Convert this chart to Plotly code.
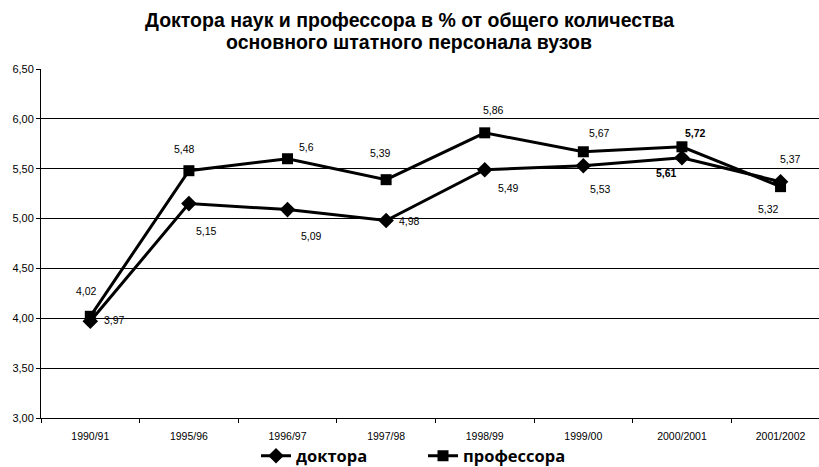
import plotly.graph_objects as go

categories = ["1990/91", "1995/96", "1996/97", "1997/98", "1998/99", "1999/00", "2000/2001", "2001/2002"]
doktora = [3.97, 5.15, 5.09, 4.98, 5.49, 5.53, 5.61, 5.37]
professora = [4.02, 5.48, 5.6, 5.39, 5.86, 5.67, 5.72, 5.32]
doktora_labels = ["3,97", "5,15", "5,09", "4,98", "5,49", "5,53", "5,61", "5,37"]
professora_labels = ["4,02", "5,48", "5,6", "5,39", "5,86", "5,67", "5,72", "5,32"]
y_ticks = [3.0, 3.5, 4.0, 4.5, 5.0, 5.5, 6.0, 6.5]
y_tick_text = ["3,00", "3,50", "4,00", "4,50", "5,00", "5,50", "6,00", "6,50"]
title_lines = ["Доктора наук и профессора в % от общего количества",
               "основного штатного персонала вузов"]

# label offsets (px) relative to the point
dok_off = [(24, 1), (18, -27), (24, -26), (23, 0), (24, -18), (17, -23), (-15, -15), (10, 23)]
prof_off = [(-4, 25), (-4, 22), (19, 12), (-6, 27), (9, 23), (16, 19), (14, 14), (-12, -22)]
dok_bold = [False] * 6 + [True, False]
prof_bold = [False] * 6 + [True, False]

PLOT_TOP = 69
PLOT_H = 418 - 69

fig = go.Figure()
fig.add_trace(go.Scatter(
    x=categories, y=doktora, name="доктора", mode="lines+markers",
    line=dict(color="black", width=3),
    marker=dict(symbol="diamond", size=12, color="black"),
))
fig.add_trace(go.Scatter(
    x=categories, y=professora, name="профессора", mode="lines+markers",
    line=dict(color="black", width=3),
    marker=dict(symbol="square", size=11, color="black"),
))

annotations = []
for cats, vals, labs, offs, bolds in [
    (categories, doktora, doktora_labels, dok_off, dok_bold),
    (categories, professora, professora_labels, prof_off, prof_bold),
]:
    for c, v, t, (dx, dy), b in zip(cats, vals, labs, offs, bolds):
        annotations.append(dict(
            x=c, y=v, text=f"<b>{t}</b>" if b else t, showarrow=False,
            xshift=dx, yshift=dy,
            font=dict(family="Liberation Sans, Arial", size=10.5, color="black"),
        ))

for line, cy in zip(title_lines, [20, 42]):
    annotations.append(dict(
        xref="paper", yref="paper", x=(409 - 41) / 778, xanchor="center",
        y=1 + (PLOT_TOP - cy) / PLOT_H, yanchor="middle",
        text=f"<b>{line}</b>", showarrow=False,
        font=dict(family="Liberation Sans, Arial", size=19.5, color="black"),
    ))

fig.update_layout(
    width=819, height=467,
    margin=dict(l=41, r=0, t=69, b=49, autoexpand=False),
    paper_bgcolor="white", plot_bgcolor="white",
    xaxis=dict(
        type="category", range=[-0.5, 7.39],
        tickson="boundaries", ticks="outside", ticklen=4, tickcolor="black",
        ticklabelstandoff=8,
        showline=True, linecolor="black", linewidth=1,
        showgrid=False,
        tickfont=dict(family="Liberation Sans, Arial", size=10.5, color="black"),
    ),
    yaxis=dict(
        range=[3.0, 6.5], tickvals=y_ticks, ticktext=y_tick_text,
        ticks="outside", ticklen=4, tickcolor="black",
        showline=True, linecolor="black", linewidth=1,
        showgrid=True, gridcolor="black", gridwidth=1,
        tickfont=dict(family="Liberation Sans, Arial", size=11, color="black"),
        zeroline=False,
    ),
    legend=dict(
        orientation="h", x=(423 - 41) / 778, xanchor="center",
        y=-(456 - 418) / PLOT_H, yanchor="middle",
        bgcolor="rgba(0,0,0,0)", borderwidth=0,
        font=dict(family="Open Sans, DejaVu Sans", size=16.5, color="black", weight="bold"),
        entrywidth=122, entrywidthmode="pixels",
    ),
    annotations=annotations,
    showlegend=True,
)

fig.write_html("out.html", config={"displayModeBar": False},
               post_script="document.body.style.margin='0px';")
